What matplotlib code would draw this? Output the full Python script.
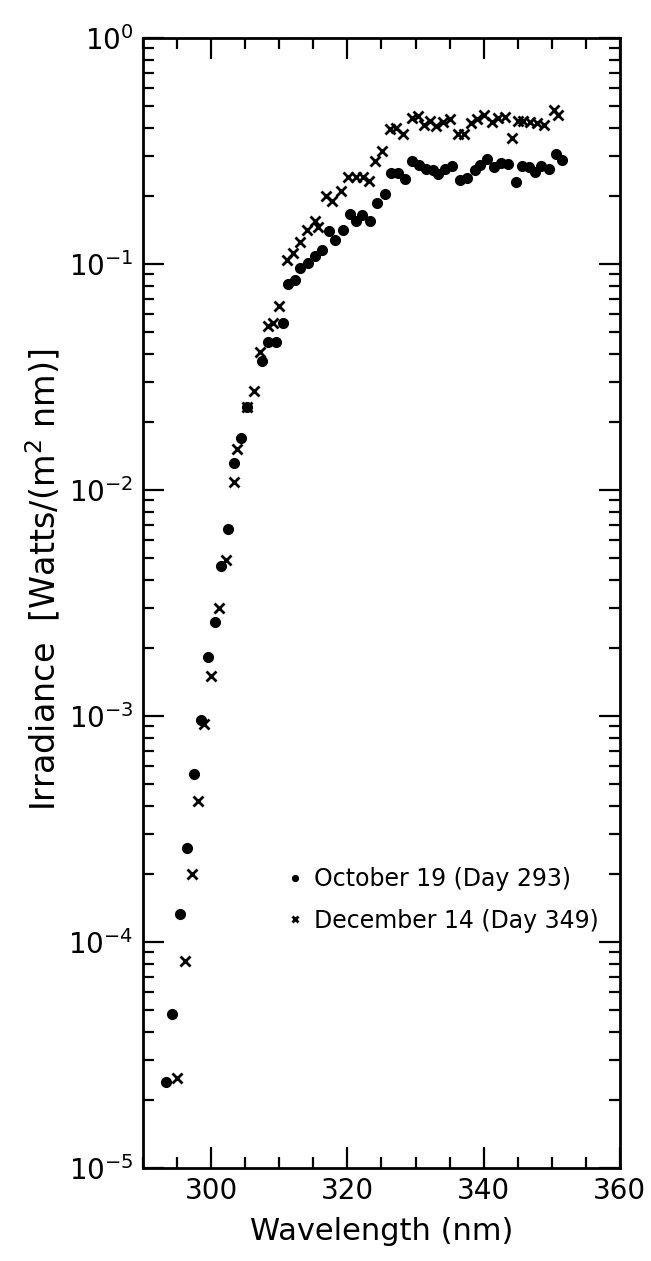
import matplotlib
matplotlib.use("Agg")
import matplotlib.pyplot as plt
from matplotlib.ticker import LogLocator, MultipleLocator, NullFormatter

# October 19 (Day 293) - filled circles
oct_wl = [293.3, 294.3, 295.4, 296.5, 297.4, 298.5, 299.5, 300.6, 301.4, 302.5,
          303.4, 304.3, 305.2, 307.5, 308.3, 309.5, 310.5, 311.2, 312.3, 313.1,
          314.2, 315.3, 316.3, 317.3, 318.2, 319.3, 320.4, 321.3, 322.2, 323.3,
          324.4, 325.5, 326.4, 327.4, 328.5, 329.5, 330.5, 331.5, 332.5, 333.3,
          334.3, 335.3, 336.6, 337.6, 338.7, 339.4, 340.5, 341.6, 342.6, 343.6,
          344.7, 345.7, 346.7, 347.6, 348.5, 349.6, 350.6, 351.5]
oct_irr = [2.4e-5, 4.8e-5, 1.32e-4, 2.6e-4, 5.5e-4, 9.6e-4, 1.82e-3, 2.6e-3, 4.6e-3, 6.7e-3,
           1.31e-2, 1.69e-2, 2.33e-2, 3.72e-2, 4.52e-2, 4.52e-2, 5.46e-2, 8.1e-2, 8.45e-2, 9.6e-2,
           0.101, 0.108, 0.115, 0.139, 0.128, 0.141, 0.166, 0.155, 0.165, 0.154,
           0.185, 0.204, 0.252, 0.252, 0.237, 0.284, 0.274, 0.262, 0.261, 0.250,
           0.263, 0.272, 0.234, 0.240, 0.259, 0.275, 0.292, 0.268, 0.280, 0.277,
           0.230, 0.270, 0.267, 0.255, 0.270, 0.263, 0.305, 0.287]

# December 14 (Day 349) - crosses
dec_wl = [295.0, 296.1, 297.2, 298.1, 299.0, 300.0, 301.2, 302.2, 303.3, 303.8,
          305.2, 306.3, 307.1, 308.4, 309.1, 310.0, 311.1, 312.0, 313.0, 314.1,
          315.2, 315.7, 316.9, 317.8, 319.0, 320.1, 321.3, 322.3, 323.1, 324.0,
          325.1, 326.3, 327.2, 328.2, 329.5, 330.4, 331.3, 332.1, 333.0, 334.0,
          335.1, 336.3, 337.1, 338.2, 339.0, 340.0, 341.2, 342.1, 343.1, 344.2,
          345.1, 345.8, 346.8, 347.8, 348.8, 350.3, 351.0]
dec_irr = [2.5e-5, 8.2e-5, 2.0e-4, 4.2e-4, 9.2e-4, 1.5e-3, 3.0e-3, 4.9e-3, 1.08e-2, 1.51e-2,
           2.33e-2, 2.73e-2, 4.08e-2, 5.32e-2, 5.46e-2, 6.48e-2, 0.104, 0.112, 0.125, 0.141,
           0.154, 0.146, 0.200, 0.189, 0.210, 0.243, 0.243, 0.243, 0.233, 0.284,
           0.315, 0.396, 0.400, 0.376, 0.442, 0.450, 0.410, 0.428, 0.407, 0.424,
           0.439, 0.374, 0.374, 0.420, 0.436, 0.454, 0.424, 0.443, 0.447, 0.361,
           0.428, 0.428, 0.424, 0.421, 0.410, 0.478, 0.454]

fig = plt.figure(figsize=(6.51, 12.61), dpi=100)
ax = fig.add_axes([0.22, 0.074, 0.732, 0.896])

ax.plot(oct_wl, oct_irr, 'o', color='black', markersize=7, linestyle='none',
        label='October 19 (Day 293)')
ax.plot(dec_wl, dec_irr, 'x', color='black', markersize=7, markeredgewidth=2,
        linestyle='none', label='December 14 (Day 349)')

ax.set_yscale('log')
ax.set_xlim(290, 360)
ax.set_ylim(1e-5, 1e0)

# ticks
ax.xaxis.set_major_locator(MultipleLocator(20))
ax.xaxis.set_minor_locator(MultipleLocator(5))
ax.yaxis.set_major_locator(LogLocator(base=10, numticks=10))
ax.yaxis.set_minor_locator(LogLocator(base=10, subs=range(2, 10), numticks=20))
ax.yaxis.set_minor_formatter(NullFormatter())
ax.tick_params(which='both', direction='in', top=True, right=True, width=1.6)
ax.tick_params(which='major', length=15, labelsize=20, pad=7)
ax.tick_params(which='minor', length=8)
for s in ax.spines.values():
    s.set_linewidth(2)

ax.set_xlabel('Wavelength (nm)', fontsize=22, labelpad=8)
ax.set_ylabel('Irradiance  [Watts/(m$^2$ nm)]', fontsize=24)
ax.yaxis.set_label_coords(-0.17, 0.52)

ax.legend(loc='upper right', bbox_to_anchor=(1.0, 0.285), frameon=False,
          fontsize=17, handletextpad=0.2, markerscale=0.6, labelspacing=0.75,
          handlelength=1.2)

plt.savefig('out.png', dpi=100)
